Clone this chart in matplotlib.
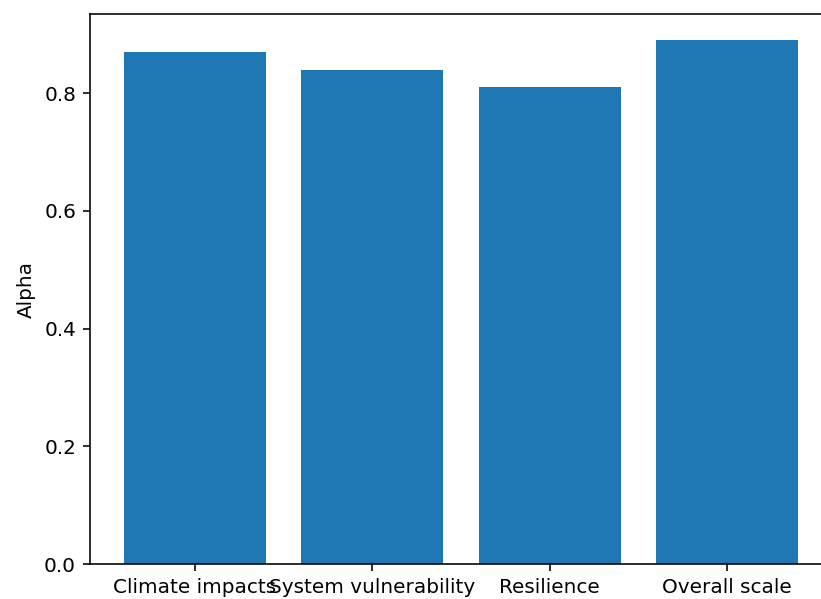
import matplotlib
matplotlib.use('Agg')
from matplotlib import pyplot as plt

categories = ['Climate impacts', 'System vulnerability', 'Resilience', 'Overall scale']
alphas = [0.87, 0.84, 0.81, 0.89]

dpi = 144
fig, ax = plt.subplots(figsize=(821 / dpi, 599 / dpi), dpi=dpi)
# the axes run a little past the right edge of the canvas
fig.subplots_adjust(left=90 / 821, right=832 / 821, top=1 - 14 / 599, bottom=1 - 564 / 599)
ax.bar(categories, alphas)
ax.set_ylabel('Alpha')
fig.savefig('out.png', dpi=dpi)
